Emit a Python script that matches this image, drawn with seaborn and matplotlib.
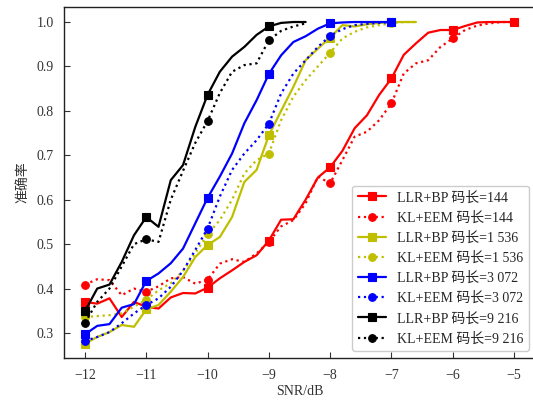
import matplotlib
matplotlib.use("Agg")
import matplotlib.pyplot as plt
import seaborn as sns
import pandas as pd

snr = [-12.0, -11.8, -11.6, -11.4, -11.2, -11.0, -10.8, -10.6, -10.4, -10.2,
       -10.0, -9.8, -9.6, -9.4, -9.2, -9.0, -8.8, -8.6, -8.4, -8.2,
       -8.0, -7.8, -7.6, -7.4, -7.2, -7.0, -6.8, -6.6, -6.4, -6.2,
       -6.0, -5.8, -5.6, -5.4, -5.2, -5.0]

llr_144 = [0.370, 0.366, 0.378, 0.336, 0.370, 0.359, 0.355, 0.380, 0.390, 0.389,
           0.402, 0.423, 0.441, 0.460, 0.475, 0.508, 0.555, 0.556, 0.600, 0.650,
           0.673, 0.710, 0.761, 0.790, 0.836, 0.873, 0.926, 0.952, 0.976, 0.982,
           0.982, 0.991, 0.999, 1.000, 1.000, 1.000]
kl_144 = [0.409, 0.421, 0.419, 0.385, 0.400, 0.393, 0.405, 0.423, 0.426, 0.411,
          0.420, 0.456, 0.466, 0.460, 0.479, 0.505, 0.540, 0.554, 0.592, 0.652,
          0.637, 0.689, 0.742, 0.753, 0.779, 0.817, 0.884, 0.907, 0.914, 0.944,
          0.963, 0.982, 0.992, 0.997, 1.000, 1.000]
llr_1536 = [0.276, 0.291, 0.302, 0.318, 0.314, 0.353, 0.363, 0.393, 0.426, 0.471,
            0.498, 0.516, 0.561, 0.640, 0.667, 0.745, 0.800, 0.854, 0.914, 0.940,
            0.965, 0.993, 0.990, 0.995, 0.998, 1.000, 1.000, 1.000]
kl_1536 = [0.336, 0.338, 0.340, 0.344, 0.359, 0.375, 0.396, 0.412, 0.440, 0.480,
           0.522, 0.554, 0.600, 0.659, 0.689, 0.704, 0.779, 0.832, 0.869, 0.900,
           0.931, 0.963, 0.978, 0.988, 0.993, 0.997, 1.000, 1.000]
llr_3072 = [0.297, 0.316, 0.320, 0.357, 0.365, 0.417, 0.434, 0.457, 0.490, 0.547,
            0.604, 0.652, 0.704, 0.772, 0.824, 0.883, 0.925, 0.955, 0.968, 0.985,
            0.997, 0.999, 1.000, 1.000, 1.000, 1.000]
kl_3072 = [0.282, 0.291, 0.302, 0.322, 0.344, 0.363, 0.378, 0.404, 0.440, 0.487,
           0.535, 0.607, 0.667, 0.704, 0.734, 0.771, 0.839, 0.884, 0.914, 0.944,
           0.969, 0.984, 0.993, 0.996, 0.998, 1.000]
llr_9216 = [0.349, 0.400, 0.409, 0.460, 0.520, 0.561, 0.539, 0.644, 0.678, 0.764,
            0.836, 0.888, 0.922, 0.944, 0.971, 0.990, 0.998, 1.000, 1.000]
kl_9216 = [0.323, 0.370, 0.400, 0.450, 0.500, 0.511, 0.505, 0.600, 0.665, 0.728,
           0.777, 0.840, 0.888, 0.903, 0.907, 0.959, 0.980, 0.990, 0.997]

labels = ["LLR+BP 码长=144", "KL+EEM 码长=144",
          "LLR+BP 码长=1 536", "KL+EEM 码长=1 536",
          "LLR+BP 码长=3 072", "KL+EEM 码长=3 072",
          "LLR+BP 码长=9 216", "KL+EEM 码长=9 216"]
series = [llr_144, kl_144, llr_1536, kl_1536, llr_3072, kl_3072, llr_9216, kl_9216]
colors = ["#ff0000", "#ff0000", "#bfbf00", "#bfbf00", "#0000ff", "#0000ff", "#000000", "#000000"]
styles = ["-", ":", "-", ":", "-", ":", "-", ":"]
markers = ["s", "o", "s", "o", "s", "o", "s", "o"]
xticks = [-12, -11, -10, -9, -8, -7, -6, -5]
yticks = [0.3, 0.4, 0.5, 0.6, 0.7, 0.8, 0.9, 1.0]

sns.set_style("ticks")
plt.rcParams["font.family"] = ["Liberation Serif", "Noto Sans CJK SC", "DejaVu Sans"]
plt.rcParams["axes.unicode_minus"] = True

fig = plt.figure(figsize=(5.33, 4.01), dpi=100)
ax = fig.add_axes([63.5 / 533, 43 / 401, 472 / 533, 351 / 401])

for vals, lab, c, ls, m in zip(series, labels, colors, styles, markers):
    df = pd.DataFrame({"SNR": snr[:len(vals)], "acc": vals})
    sns.lineplot(data=df, x="SNR", y="acc", ax=ax, color=c, linestyle=ls,
                 marker=m, markevery=5, markersize=5.5, markeredgecolor=c,
                 markeredgewidth=0.8, linewidth=1.6, label=lab,
                 sort=False, estimator=None)

ax.set_xlim(-12.35, -4.65)
ax.set_ylim(0.2437, 1.0338)
ax.set_xticks(xticks)
ax.set_yticks(yticks)
ax.set_xticklabels([f"{t:d}".replace("-", "\u2212") for t in xticks])
ax.set_yticklabels([f"{t:.1f}" for t in yticks])
ax.tick_params(direction="in", length=4, width=0.8, labelsize=10,
               colors="#333333", labelcolor="#333333")
ax.tick_params(axis="x", pad=8)
ax.tick_params(axis="y", pad=7)
for s in ax.spines.values():
    s.set_linewidth(1.0)
    s.set_color("#222222")
ax.set_xlabel("SNR/dB", fontsize=10, labelpad=2, color="#333333")
ax.set_ylabel("准确率", fontsize=10, labelpad=5, color="#333333")
leg = ax.legend(loc="lower right", fontsize=10, frameon=True, framealpha=1.0,
                edgecolor="#cccccc", fancybox=True)

fig.savefig("out.png", dpi=100)
